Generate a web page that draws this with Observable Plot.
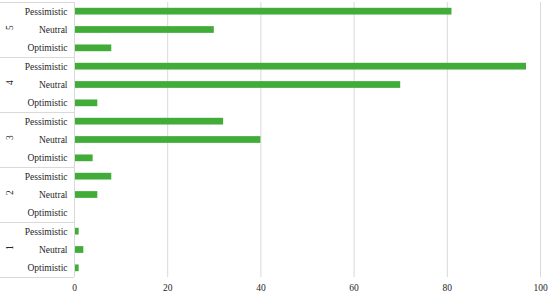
<!DOCTYPE html>
<html>
<head>
<meta charset="utf-8">
<script src="https://cdn.jsdelivr.net/npm/d3@7"></script>
<script src="https://cdn.jsdelivr.net/npm/@observablehq/plot@0.6"></script>
<style>
  body { margin: 0; background: #ffffff; }
</style>
</head>
<body>
<div id="chart"></div>
<script>
const groups = ["1", "2", "3", "4", "5"];
const categories = ["Optimistic", "Neutral", "Pessimistic"];
const optimistic = [1, 0, 4, 5, 8];
const neutral = [2, 5, 40, 70, 30];
const pessimistic = [1, 8, 32, 97, 81];
const xTicks = [0, 20, 40, 60, 80, 100];

const seriesByCategory = [optimistic, neutral, pessimistic];
const data = groups.flatMap((g, gi) =>
  categories.map((c, ci) => ({
    group: g,
    category: c,
    row: gi * categories.length + ci,
    value: seriesByCategory[ci][gi]
  }))
);
const nRows = groups.length * categories.length;
const groupBounds = d3.range(0, nRows + 1, categories.length);

const chart = Plot.plot({
  width: 550,
  height: 294,
  marginLeft: 74,
  marginRight: 10,
  marginTop: 2,
  marginBottom: 17,
  x: { domain: [0, 100], label: null },
  y: { domain: [0, nRows], label: null },
  style: { fontFamily: "Liberation Serif", fontSize: "9.5px", color: "#262626", background: "#ffffff" },
  marks: [
    Plot.gridX(xTicks.slice(1), { stroke: "#d9d9d9", strokeOpacity: 1 }),
    Plot.rectX(data, { x: "value", y: "row", interval: 1, insetTop: 5.8, insetBottom: 5.8, fill: "#42ac39" }),
    Plot.ruleX([0], { stroke: "#d9d9d9" }),
    Plot.axisY(groupBounds, { tickSize: 74, tickFormat: () => "", stroke: "#d9d9d9", strokeOpacity: 1 }),
    Plot.axisY(data.map(d => d.row + 0.5), {
      tickSize: 0, tickPadding: 7,
      tickFormat: v => categories[Math.floor(v) % categories.length]
    }),
    Plot.axisX(xTicks, { tickSize: 0, tickPadding: 7 }),
    Plot.text(groups, {
      y: (d, i) => i * categories.length + categories.length / 2,
      text: d => d,
      frameAnchor: "left",
      dx: -65,
      rotate: -90,
      fill: "#262626"
    })
  ]
});
document.getElementById("chart").appendChild(chart);
</script>
</body>
</html>
